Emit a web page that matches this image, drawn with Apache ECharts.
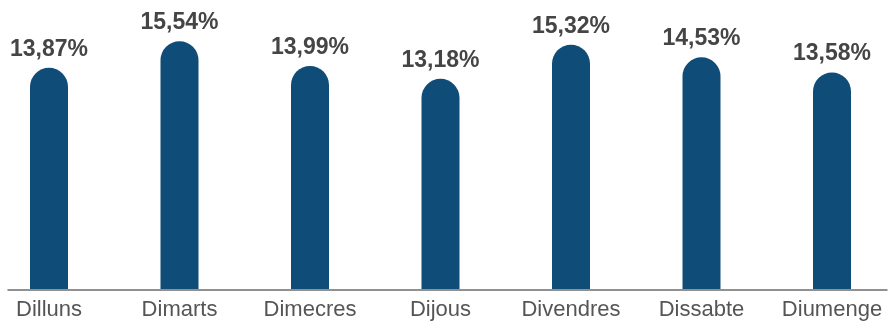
<!DOCTYPE html>
<html><head><meta charset="utf-8">
<script src="https://cdn.jsdelivr.net/npm/echarts@6/dist/echarts.min.js"></script>
<style>html,body{margin:0;padding:0;background:#fff}#c{width:888px;height:321px}</style>
</head><body><div id="c"></div>
<script>
const categories = ['Dilluns','Dimarts','Dimecres','Dijous','Divendres','Dissabte','Diumenge'];
const values = [13.87, 15.54, 13.99, 13.18, 15.32, 14.53, 13.58];

const chart = echarts.init(document.getElementById('c'), null, {renderer:'canvas'});
chart.setOption({
  animation: false,
  grid: [
    {left: 49, right: 56, top: 2, bottom: 31},
    {left: 8, right: 1, top: 2, bottom: 31}
  ],
  xAxis: [
    {type: 'category', data: categories, gridIndex: 0, boundaryGap: false,
     axisLine: {show: false}, axisTick: {show: false},
     axisLabel: {interval: 0, margin: 10, fontFamily: 'Liberation Sans, Arial, sans-serif', fontSize: 22, color: '#555'}},
    {type: 'value', gridIndex: 1, min: 0, max: 1,
     axisLine: {show: true, lineStyle: {color: '#6e6e6e', width: 1.5}},
     axisTick: {show: false}, axisLabel: {show: false}, splitLine: {show: false}}
  ],
  yAxis: [
    {type: 'value', gridIndex: 0, min: 0, max: 18, show: false},
    {type: 'value', gridIndex: 1, min: 0, max: 1, show: false}
  ],
  series: [{
    type: 'bar', xAxisIndex: 0, yAxisIndex: 0,
    data: values, barWidth: 38,
    itemStyle: {color: '#0f4c78', borderRadius: [19,19,0,0]},
    label: {show: true, position: 'top', distance: 7,
      formatter: p => p.value.toFixed(2).replace('.', ',') + '%',
      fontFamily: 'Liberation Sans, Arial, sans-serif', fontWeight: 'bold', fontSize: 23, color: '#454545'}
  }]
});
</script></body></html>
